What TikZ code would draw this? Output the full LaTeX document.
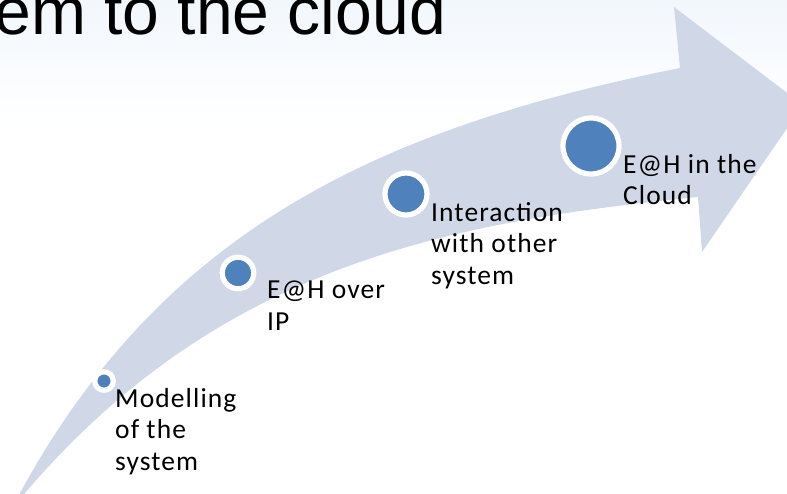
\documentclass[tikz,border=0pt]{standalone}
\usepackage{fontspec}
\setmainfont{Carlito}
\newfontfamily\titlefont{Liberation Sans}
\usetikzlibrary{positioning}

\definecolor{bandblue}{HTML}{D0D8E8}
\definecolor{dotblue}{HTML}{4F81BD}
\definecolor{skyblue}{HTML}{F2F7FC}

\tikzset{
  milestone/.style={circle, fill=dotblue, draw=white, line width=5.2pt, inner sep=0pt},
  steptext/.style={anchor=north west, align=left, inner sep=0pt,
    font=\addfontfeatures{LetterSpace=4}\fontsize{27.5}{31.5}\selectfont},
}

\begin{document}
\begin{tikzpicture}[x=1pt,y=-1pt]
  \useasboundingbox (0,0) rectangle (787,494);
  \clip (0,0) rectangle (787,494);
  % pale sky behind the title
  \shade[top color=skyblue, bottom color=white] (0,0) rectangle (787,120);

  % the curved arrow
  \fill[bandblue] (20,493) .. controls (164,229) and (380,128) .. (680,68)
    -- (674,7) -- (803,105) -- (702,252) -- (698,197)
    .. controls (448,222) and (220,265) .. (25,493) -- (22,500) -- cycle;

  \node[font=\titlefont\fontsize{66}{72}\selectfont, anchor=base west, inner sep=0pt]
    (title) at (-24,35) {tem to the cloud};

  % milestones along the arrow
  \node[milestone, minimum size=18.5pt] (model) at (104,381) {};
  \node[milestone, minimum size=31.5pt] (overip) at (238,273) {};
  \node[milestone, minimum size=42pt] (interact) at (406,194) {};
  \node[milestone, minimum size=56pt] (cloud) at (591,146) {};

  \node[steptext] (modeltxt) at (115,388) {Modelling\\of the\\system};
  \node[steptext] (overiptxt) at (267,281) {E@H over\\IP};
  \node[steptext] (interacttxt) at (431,202) {Interaction\\with other\\system};
  \node[steptext] (cloudtxt) at (623,154) {E@H in the\\Cloud};
\end{tikzpicture}
\end{document}
